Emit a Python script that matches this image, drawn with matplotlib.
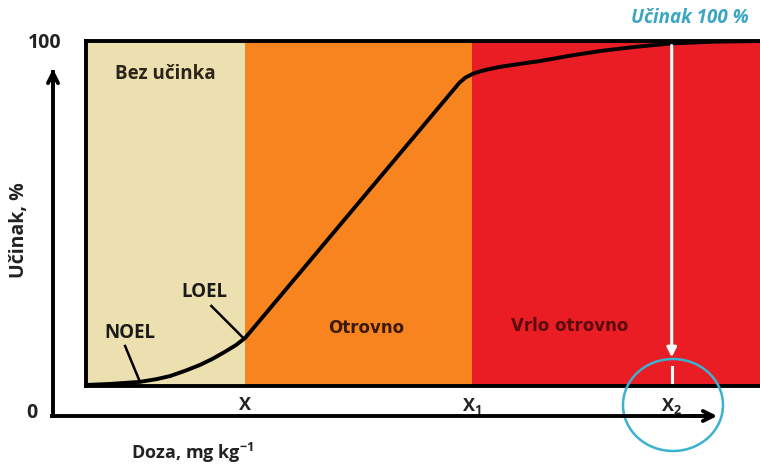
import matplotlib.pyplot as plt
from matplotlib.patches import Ellipse
import numpy as np

plt.rcParams['font.family'] = ['Open Sans', 'DejaVu Sans']
plt.rcParams['mathtext.fontset'] = 'custom'
plt.rcParams['mathtext.rm'] = 'Open Sans'
plt.rcParams['mathtext.bf'] = 'Open Sans:bold'

# zone edges (dose, arbitrary units 0..100)
zone_edges = [0, 23.6, 57.3, 100]
zone_colors = ['#ede0b0', '#f7841f', '#ea1c24']
zone_names = ['Bez učinka', 'Otrovno', 'Vrlo otrovno']
zone_text_colors = ['#2b2418', '#3b1a08', '#5a0c0c']

# dose-response curve
doza = [0, 3.6, 8.0, 10.5, 12.5, 14.7, 16.9, 18.8, 20.6, 22.2, 23.6, 55.4,
        56.3, 57.4, 58.5, 59.7, 61.4, 64.5, 67.4, 72.0, 76.3, 81.5, 86.9, 93.0, 100]
ucinak = [0.3, 0.6, 1.2, 2.0, 2.9, 4.4, 6.1, 7.9, 9.9, 11.8, 13.9, 87.9,
          89.4, 90.5, 91.2, 91.8, 92.5, 93.4, 94.2, 95.8, 97.1, 98.3, 99.3, 99.8, 100]

tick_pos = [23.6, 57.3, 86.9]
tick_labels = ['X', r'$\mathbf{X_1}$', r'$\mathbf{X_2}$']

W, H = 760, 468
fig = plt.figure(figsize=(W / 100, H / 100), dpi=100)


def fp(x, y):
    return (x / W, 1 - y / H)


ax = fig.add_axes([86 / W, 1 - 386 / H, 674 / W, 345 / H])
for i in range(3):
    ax.axvspan(zone_edges[i], zone_edges[i + 1], color=zone_colors[i], lw=0)

ax.plot(doza, ucinak, color='black', lw=2.8, solid_capstyle='round', solid_joinstyle='round')

ax.set_xlim(0, 100)
ax.set_ylim(0, 100)
ax.set_yticks([])
ax.set_xticks(tick_pos)
ax.set_xticklabels(tick_labels, fontsize=13, fontweight='bold', color='#222222')
ax.tick_params(axis='x', length=0, pad=7)
for s in ['left', 'top', 'bottom']:
    ax.spines[s].set_linewidth(2.8)
ax.spines['right'].set_visible(False)

# zone labels
ax.text(11.8, 90.5, zone_names[0], ha='center', va='center', fontsize=13.5,
        fontweight='bold', color=zone_text_colors[0])
ax.text(41.5, 16.8, zone_names[1], ha='center', va='center', fontsize=12,
        fontweight='bold', color=zone_text_colors[1], family='DejaVu Sans')
ax.text(71.7, 17.4, zone_names[2], ha='center', va='center', fontsize=12,
        fontweight='bold', color=zone_text_colors[2], family='DejaVu Sans')

# NOEL / LOEL
ax.text(6.5, 15.3, 'NOEL', ha='center', va='center', fontsize=13.5, fontweight='bold', color='#1a1a1a')
ax.plot([5.8, 8.0], [11.6, 1.2], color='black', lw=1.8)
ax.text(17.5, 27.2, 'LOEL', ha='center', va='center', fontsize=13.5, fontweight='bold', color='#1a1a1a')
ax.plot([18.6, 23.2], [23.2, 14.2], color='black', lw=1.8)

# white arrow at X2
ax.annotate('', xy=(86.9, 7.5), xytext=(86.9, 99.5),
            arrowprops=dict(arrowstyle='-|>', color='white', lw=2.2, mutation_scale=14))
ax.plot([86.9, 86.9], [0.8, 5.5], color='white', lw=2.2)

# outer axes arrows
fig.add_artist(plt.Line2D(*zip(fp(53, 416), fp(53, 72)), color='black', lw=2.8,
                          transform=fig.transFigure))
ax.annotate('', xy=fp(53, 66), xytext=fp(53, 90), xycoords='figure fraction',
            arrowprops=dict(arrowstyle='->', color='black', lw=2.8, mutation_scale=18))
fig.add_artist(plt.Line2D(*zip(fp(52, 416), fp(712, 416)), color='black', lw=2.8,
                          transform=fig.transFigure))
ax.annotate('', xy=fp(720, 416), xytext=fp(690, 416), xycoords='figure fraction',
            arrowprops=dict(arrowstyle='->', color='black', lw=2.8, mutation_scale=18))

fig.text(*fp(45, 43), '100', ha='center', va='center', fontsize=14, fontweight='bold', color='#222222')
fig.text(*fp(32, 413), '0', ha='center', va='center', fontsize=14, fontweight='bold', color='#222222')
fig.text(*fp(19, 230), 'Učinak, %', ha='center', va='center', rotation=90, fontsize=14,
         fontweight='bold', color='#222222')
fig.text(*fp(192, 453), r'Doza, mg kg$^{\mathbf{-1}}$', ha='center', va='center', fontsize=13,
         fontweight='bold', color='#222222')
fig.text(*fp(690, 18), 'Učinak 100 %', ha='center', va='center', fontsize=13.5,
         fontweight='bold', style='italic', color='#3aa6c4')

circ = Ellipse(fp(673, 405), 100 / W, 92 / H, transform=fig.transFigure,
               fill=False, edgecolor='#3ab2d0', lw=1.8)
fig.add_artist(circ)

fig.savefig('out.png', dpi=100)
